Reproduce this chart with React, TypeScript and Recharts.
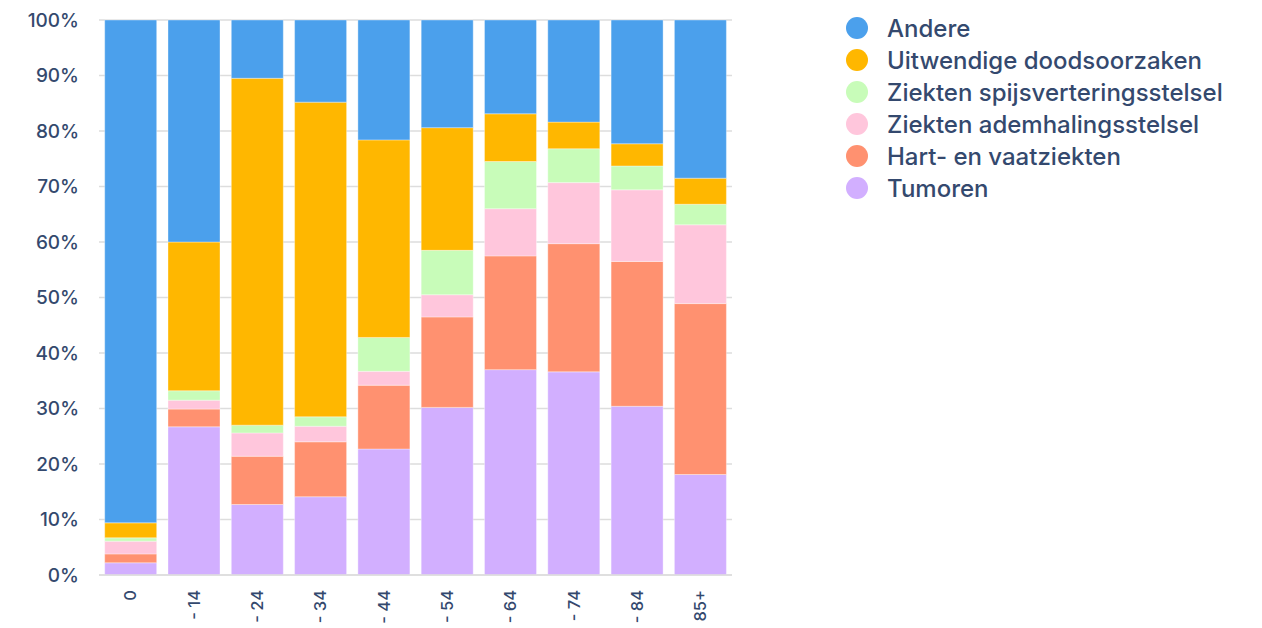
import { BarChart, Bar, XAxis, YAxis, CartesianGrid } from 'recharts';

// age groups along the x axis
const ageGroups = ['0', '- 14', '- 24', '- 34', '- 44', '- 54', '- 64', '- 74', '- 84', '85+'];

// share of deaths per cause (%)
const tumoren = [2.2, 26.7, 12.7, 14.1, 22.7, 30.2, 37.0, 36.6, 30.4, 18.1];
const hartVaat = [1.6, 3.2, 8.7, 9.9, 11.5, 16.3, 20.5, 23.1, 26.1, 30.8];
const ademhaling = [2.3, 1.6, 4.2, 2.8, 2.5, 4.0, 8.5, 11.0, 12.9, 14.2];
const spijsvertering = [0.6, 1.7, 1.4, 1.7, 6.1, 8.0, 8.5, 6.1, 4.3, 3.7];
const uitwendig = [2.7, 26.8, 62.5, 56.7, 35.6, 22.1, 8.6, 4.8, 4.0, 4.7];
const andere = [90.6, 40.0, 10.5, 14.8, 21.6, 19.4, 16.9, 18.4, 22.3, 28.5];

const yTicks = [0, 0.1, 0.2, 0.3, 0.4, 0.5, 0.6, 0.7, 0.8, 0.9, 1];

// stacking order bottom -> top
const series = [
  { key: 'tumoren', name: 'Tumoren', color: '#d2afff' },
  { key: 'hartVaat', name: 'Hart- en vaatziekten', color: '#ff9170' },
  { key: 'ademhaling', name: 'Ziekten ademhalingsstelsel', color: '#ffc6dc' },
  { key: 'spijsvertering', name: 'Ziekten spijsverteringsstelsel', color: '#c8fcb9' },
  { key: 'uitwendig', name: 'Uitwendige doodsoorzaken', color: '#ffb700' },
  { key: 'andere', name: 'Andere', color: '#4ba0ec' },
];

const data = ageGroups.map((age, i) => ({
  age,
  tumoren: tumoren[i],
  hartVaat: hartVaat[i],
  ademhaling: ademhaling[i],
  spijsvertering: spijsvertering[i],
  uitwendig: uitwendig[i],
  andere: andere[i],
}));

const TEXT = '#34496e';
const FONT = 'Inter, "Noto Sans", sans-serif';

// eslint-disable-next-line @typescript-eslint/no-explicit-any
const AgeTick = (props: any) => {
  const { x, y, payload } = props;
  return (
    <g transform={`translate(${x},${y})`}>
      <text
        transform="rotate(-90)"
        x={-7}
        dy="0.35em"
        textAnchor="end"
        fill={TEXT}
        fontSize={16.5}
        fontWeight={500}
        fontFamily={FONT}
      >
        {payload.value}
      </text>
    </g>
  );
};

// legend drawn next to the chart, top entry = top of the stack
const CauseLegend = () => {
  const items = [...series].reverse();
  return (
    <div style={{ position: 'absolute', top: 12, left: 846, fontFamily: FONT }}>
      {items.map((s) => (
        <div
          key={s.key}
          style={{ display: 'flex', alignItems: 'center', height: 32 }}
        >
          <span
            style={{
              width: 22,
              height: 22,
              borderRadius: '50%',
              background: s.color,
              marginRight: 19,
              display: 'inline-block',
            }}
          />
          <span style={{ color: TEXT, fontSize: 24, fontWeight: 500, whiteSpace: 'nowrap' }}>
            {s.name}
          </span>
        </div>
      ))}
    </div>
  );
};

export default function App() {
  return (
    <div style={{ position: 'relative', width: 1262, height: 628, overflow: 'hidden' }}>
      <style>{'body { margin: 0; }'}</style>
      <BarChart
        width={1262}
        height={628}
        data={data}
        stackOffset="expand"
        barCategoryGap="9%"
        margin={{ top: 20, right: 530, left: 0, bottom: 0 }}
      >
        <CartesianGrid vertical={false} stroke="#dddddd" strokeWidth={1.5} />
        <XAxis
          dataKey="age"
          height={53}
          interval={0}
          tickLine={false}
          axisLine={{ stroke: '#dddddd', strokeWidth: 1.5 }}
          tick={<AgeTick />}
        />
        <YAxis
          width={99}
          domain={[0, 1]}
          ticks={yTicks}
          tickSize={0}
          tickMargin={20}
          axisLine={false}
          tickLine={false}
          tickFormatter={(v: number) => `${Math.round(v * 100)}%`}
          tick={{ fill: TEXT, fontSize: 19, fontWeight: 500, fontFamily: FONT }}
        />
        {series.map((s) => (
          <Bar
            key={s.key}
            dataKey={s.key}
            name={s.name}
            stackId="a"
            fill={s.color}
            stroke="#ffffff"
            strokeOpacity={0.35}
            strokeWidth={1}
            isAnimationActive={false}
          />
        ))}
      </BarChart>
      <CauseLegend />
    </div>
  );
}
